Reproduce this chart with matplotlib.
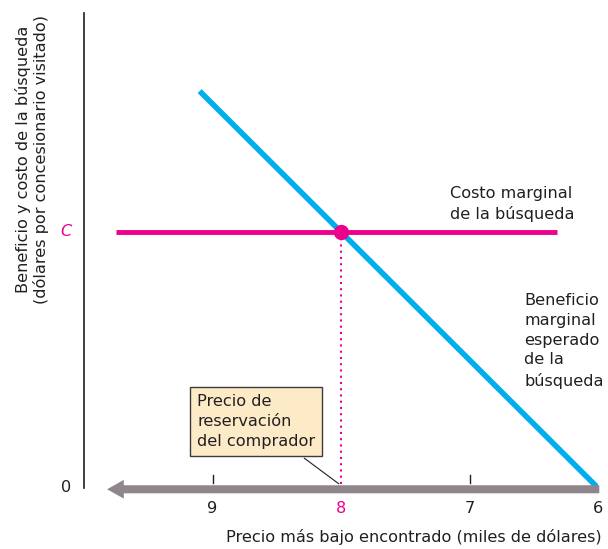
import matplotlib.pyplot as plt

# datos (precio en miles de dólares, eje invertido)
precio_beneficio = [9.1, 6.0]
beneficio = [3.1, 0.0]
precio_costo = [9.75, 6.32]
costo_c = 2.0
precio_reserva = 8.0
ticks = [9, 8, 7, 6]
tick_labels = ['9', '8', '7', '6']

azul = '#00aeef'
magenta = '#ec008c'
gris = '#8f868b'
texto = '#231f20'

plt.rcParams['font.family'] = ['DejaVu Sans']
fs = 11.6
fig = plt.figure(figsize=(6.08, 5.49), dpi=100)
ax = fig.add_axes([84 / 608, 61 / 549, 514 / 608, 475 / 549])
ax.set_xlim(10, 6)
ax.set_ylim(0, 3.71)

for s in ['top', 'right', 'bottom']:
    ax.spines[s].set_visible(False)
ax.spines['left'].set_color(texto)
ax.spines['left'].set_linewidth(1.2)
ax.set_yticks([])
ax.set_xticks([])

ax.plot(precio_beneficio, beneficio, color=azul, lw=4, solid_capstyle='butt', zorder=3)

# eje x como flecha
ax.annotate('', xy=(9.82, -0.01), xytext=(5.99, -0.01),
            arrowprops=dict(arrowstyle='simple,head_length=1.2,head_width=1.35,tail_width=0.58',
                            mutation_scale=10, fc=gris, ec='none', lw=0,
                            shrinkA=0, shrinkB=0),
            annotation_clip=False, zorder=4)

# marcas y etiquetas
for t, lab in zip(ticks, tick_labels):
    col = magenta if t == precio_reserva else texto
    if t in (9, 7):
        ax.plot([t, t], [0.04, 0.1], color=texto, lw=1, clip_on=False)
    ax.text(t, -0.1, lab, ha='center', va='top', fontsize=fs, color=col)

ax.text(10.1, 0, '0', ha='right', va='center', fontsize=fs, color=texto)
ax.text(10.1, costo_c, 'C', ha='right', va='center', fontsize=fs,
        color=magenta, style='italic')

ax.plot(precio_costo, [costo_c, costo_c], color=magenta, lw=3.5,
        solid_capstyle='butt', zorder=5)
ax.plot([precio_reserva, precio_reserva], [0.03, costo_c], color=magenta, lw=1.5,
        linestyle=(0, (1, 2)), zorder=2)
ax.plot([precio_reserva], [costo_c], 'o', color=magenta, ms=10, zorder=6)

ax.text(7.15, 2.22, 'Costo marginal\nde la búsqueda', fontsize=fs, va='center',
        ha='left', color=texto, linespacing=1.4)
ax.text(6.575, 1.15, 'Beneficio\nmarginal\nesperado\nde la\nbúsqueda', fontsize=fs,
        va='center', ha='left', color=texto, linespacing=1.4)

ax.annotate('Precio de\nreservación\ndel comprador', xy=(precio_reserva, 0.02),
            xytext=(9.12, 0.52), fontsize=fs, ha='left', va='center',
            color=texto, linespacing=1.4,
            bbox=dict(boxstyle='square,pad=0.45', fc='#fdebc8', ec='#3d3a3b', lw=1),
            arrowprops=dict(arrowstyle='-', color=texto, lw=0.8,
                            relpos=(0.8, 0)))

fig.text(414 / 608, 12 / 549, 'Precio más bajo encontrado (miles de dólares)',
         ha='center', va='center', fontsize=fs, color=texto)
fig.text(32 / 608, 390 / 549,
         'Beneficio y costo de la búsqueda\n(dólares por concesionario visitado)',
         ha='center', va='center', rotation=90, fontsize=fs, color=texto,
         linespacing=1.1)

plt.savefig('out.png', dpi=100)
